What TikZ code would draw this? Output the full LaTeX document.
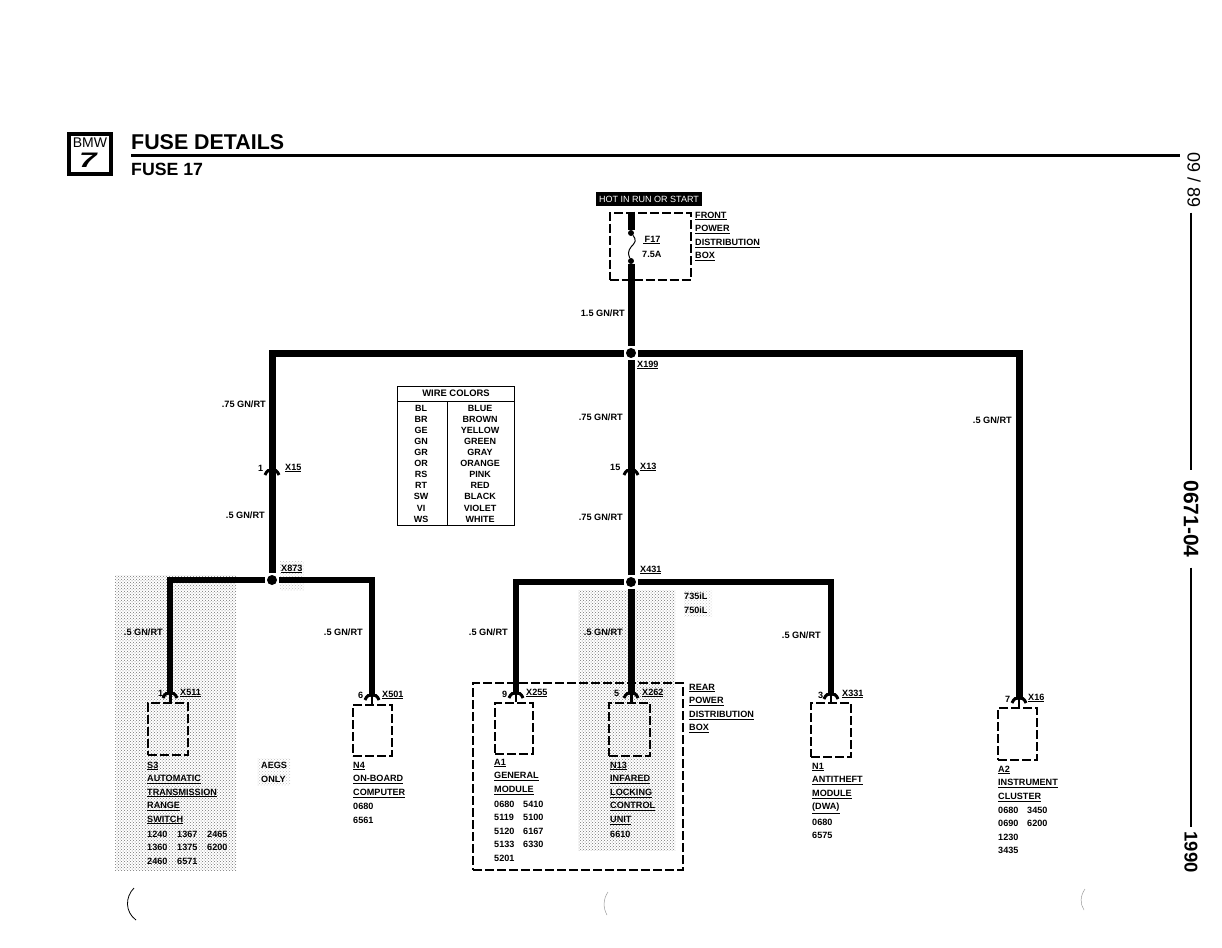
\documentclass[tikz,border=0pt]{standalone}
\usepackage{fontspec}
\setmainfont{Liberation Sans}
\usetikzlibrary{patterns}

\tikzset{
	wire/.style={line width=7pt},
	thinwire/.style={line width=6pt},
	stub/.style={line width=2pt},
	junct/.style={circle, fill=black, inner sep=0pt, minimum size=10pt, outer sep=2pt},
	modbox/.style={draw, line width=2pt, dash pattern=on 9pt off 3pt, inner sep=0pt},
	txt/.style={anchor=west, inner sep=0pt, font=\bfseries\fontsize{9.1}{10}\selectfont},
	wlabel/.style={anchor=east, inner sep=0pt, font=\bfseries\fontsize{9.2}{10}\selectfont},
	cell/.style={inner sep=0pt, font=\bfseries\fontsize{9}{10}\selectfont},
	shade/.style={pattern=crosshatch dots, pattern color=black!55},
	faintshade/.style={pattern=crosshatch dots, pattern color=black!25},
	pics/conn/.style={code={
		\draw[line width=3pt] (-7,5) .. controls (-5,0) and (-3,0) .. (0,0) .. controls (3,0) and (5,0) .. (7,5);
	}}
}

\begin{document}
\begin{tikzpicture}[x=1pt, y=-1pt]
	\useasboundingbox (0,0) rectangle (1222,947);

	% scanned gray areas
	\fill[shade] (115,575) rectangle (236,870);
	\fill[shade] (578,590) rectangle (675,850);
	\fill[faintshade] (280,561) rectangle (304,590);
	\fill[faintshade] (684,590) rectangle (712,616);
	\fill[faintshade] (257,758) rectangle (290,785);

	% header
	\draw[line width=4pt] (68.5,133.5) rectangle (110.5,173.5);
	\node[inner sep=0pt, font=\fontsize{14}{15}\selectfont] (bmw) at (90,143) {BMW};
	\node[inner sep=0pt, xscale=1.5, font=\bfseries\itshape\fontsize{21}{22}\selectfont] (seven) at (88,160) {7};
	\node[anchor=base west, inner sep=0pt, font=\bfseries\fontsize{21.4}{22}\selectfont] (title) at (131,149) {FUSE DETAILS};
	\node[anchor=base west, inner sep=0pt, font=\bfseries\fontsize{17.7}{18}\selectfont] (subtitle) at (131,175) {FUSE 17};
	\draw[line width=3pt] (131,155) -- (1180,155);

	% right margin
	\node[rotate=-90, inner sep=0pt, outer sep=5pt, font=\fontsize{18}{20}\selectfont] (date) at (1194,180) {09 / 89};
	\node[rotate=-90, inner sep=0pt, outer sep=10pt, font=\bfseries\fontsize{21}{22}\selectfont] (code) at (1191,519) {0671-04};
	\node[rotate=-90, inner sep=0pt, outer sep=4pt, font=\bfseries\fontsize{18.5}{20}\selectfont] (year) at (1191,852) {1990};
	\draw[line width=2.2pt] (date.east -| code) -- (code.west);
	\draw[line width=2.2pt] (code.east) -- (year.west);

	% fuse box
	\node[fill=black, text=white, inner sep=0pt, minimum width=106pt, minimum height=14pt, font=\fontsize{9}{10}\selectfont] (hot) at (649,199) {HOT IN RUN OR START};
	\node[modbox, minimum width=81pt, minimum height=67pt] (frontbox) at (650,246) {};
	\node[circle, fill=black, inner sep=0pt, minimum size=6pt] (fusetop) at (631,233) {};
	\node[circle, fill=black, inner sep=0pt, minimum size=6pt] (fusebot) at (631,261) {};
	\draw[wire] (frontbox.north -| fusetop) -- (fusetop);
	\draw[line width=1pt] (fusetop) .. controls (637,240) and (635,243) .. (631,247) .. controls (628,251) and (628,254) .. (fusebot);
	\node[txt] (f17) at (643,240) {\underline{\,F17}};
	\node[txt] (fuserate) at (642,254) {7.5A};
	\foreach \txt [count=\j from 0] in {FRONT,POWER,DISTRIBUTION,BOX} {
		\node[txt] (front\j) at (695,216+13.6*\j) {\underline{\txt}};
	}

	% splices
	\node[junct] (j199) at (631,353) {};
	\node[junct] (j873) at (272,580) {};
	\node[junct] (j431) at (631,582) {};

	% connectors
	\coordinate (x15) at (272,470);
	\coordinate (x13) at (631,470);
	\coordinate (x511) at (170,693);
	\coordinate (x501) at (372,695);
	\coordinate (x255) at (516,693);
	\coordinate (x262) at (631,693);
	\coordinate (x331) at (831,694);
	\coordinate (x16) at (1019,698);
	\foreach \c in {x15,x13,x511,x501,x255,x262,x331,x16} {
		\pic at (\c) {conn};
	}

	% modules
	\node[modbox, minimum width=40pt, minimum height=52pt] (s3) at (168,729) {};
	\node[modbox, minimum width=39pt, minimum height=51pt] (n4) at (372.5,730.5) {};
	\node[modbox, minimum width=38pt, minimum height=51pt] (a1) at (514,728.5) {};
	\node[modbox, minimum width=41pt, minimum height=53pt] (n13) at (629.5,729.5) {};
	\node[modbox, minimum width=40pt, minimum height=54pt] (n1) at (831,730) {};
	\node[modbox, minimum width=39pt, minimum height=52pt] (a2) at (1017.5,734) {};
	\node[modbox, line width=2.4pt, minimum width=210pt, minimum height=187pt] (rearbox) at (578,776.5) {};

	% wires
	\draw[wire] (fusebot) -- (j199);
	\draw[wire] (j199) -| ([yshift=-5pt]x15);
	\draw[wire] (j199) -| (x16);
	\draw[wire] (j199) -- ([yshift=-5pt]x13);
	\draw[wire] ([yshift=3pt]x15) -- (j873);
	\draw[wire] ([yshift=3pt]x13) -- (j431);
	\draw[thinwire] (j873) -| (x511);
	\draw[thinwire] (j873) -| (x501);
	\draw[thinwire] (j431) -| (x255);
	\draw[thinwire] (j431) -| (x331);
	\draw[wire] (j431) -- (x262);
	\draw[stub] (x15) -- ++(0,-5);
	\draw[stub] (x13) -- ++(0,-5);
	\draw[stub, line width=3pt] (x511) -- (x511 |- s3.north);
	\draw[stub] (x501) -- (x501 |- n4.north);
	\draw[stub] (x255) -- (x255 |- a1.north);
	\draw[stub, line width=3pt] (x262) -- (x262 |- n13.north);
	\draw[stub] (x331) -- (x331 |- n1.north);
	\draw[stub] (x16) -- (x16 |- a2.north);

	% wire labels
	\node[wlabel] (w1) at (625,313) {1.5 GN/RT};
	\node[wlabel] (w2) at (266,404) {.75 GN/RT};
	\node[wlabel] (w3) at (265,515) {.5 GN/RT};
	\node[wlabel] (w4) at (623,417) {.75 GN/RT};
	\node[wlabel] (w5) at (623,517) {.75 GN/RT};
	\node[wlabel] (w6) at (1012,420) {.5 GN/RT};
	\node[wlabel] (w7) at (163,632) {.5 GN/RT};
	\node[wlabel] (w8) at (363,632) {.5 GN/RT};
	\node[wlabel] (w9) at (508,632) {.5 GN/RT};
	\node[wlabel] (w10) at (623,632) {.5 GN/RT};
	\node[wlabel] (w11) at (821,635) {.5 GN/RT};

	% pin and connector labels
	\node[txt] (p15) at (258,468) {1};
	\node[txt] (l15) at (285,468) {\underline{X15}};
	\node[txt] (p13) at (610,467) {15};
	\node[txt] (l13) at (640,467) {\underline{X13}};
	\node[txt] (l199) at (637,365) {\underline{X199}};
	\node[txt] (l873) at (281,569) {\underline{X873}};
	\node[txt] (l431) at (640,570) {\underline{X431}};
	\node[txt] (il1) at (684,596) {735iL};
	\node[txt] (il2) at (684,610) {750iL};
	\node[txt] (p511) at (158,693) {1};
	\node[txt] (l511) at (180,693) {\underline{X511}};
	\node[txt] (p501) at (358,695) {6};
	\node[txt] (l501) at (382,695) {\underline{X501}};
	\node[txt] (p255) at (502,694) {9};
	\node[txt] (l255) at (526,693) {\underline{X255}};
	\node[txt] (p262) at (614,693) {5};
	\node[txt] (l262) at (642,693) {\underline{X262}};
	\node[txt] (p331) at (818,695) {3};
	\node[txt] (l331) at (842,694) {\underline{X331}};
	\node[txt] (p16) at (1005,699) {7};
	\node[txt] (l16) at (1028,698) {\underline{X16}};

	% module texts
	\foreach \txt [count=\j from 0] in {S3,AUTOMATIC,TRANSMISSION,RANGE,SWITCH} {
		\node[txt] (s3t\j) at (147,766+13.5*\j) {\underline{\txt}};
	}
	\foreach \a/\b/\c [count=\j from 0] in {1240/1367/2465,1360/1375/6200,2460/6571/} {
		\node[txt] (s3a\j) at (147,834+13.5*\j) {\a};
		\node[txt] (s3b\j) at (177,834+13.5*\j) {\b};
		\node[txt] (s3c\j) at (207,834+13.5*\j) {\c};
	}
	\foreach \txt [count=\j from 0] in {N4,ON-BOARD,COMPUTER} {
		\node[txt] (n4t\j) at (353,766+13.6*\j) {\underline{\txt}};
	}
	\node[txt] (n4a) at (353,806) {0680};
	\node[txt] (n4b) at (353,820) {6561};
	\node[txt] (aegs) at (261,765) {AEGS};
	\node[txt] (only) at (261,779) {ONLY};
	\foreach \txt [count=\j from 0] in {A1,GENERAL,MODULE} {
		\node[txt] (a1t\j) at (494,763+13.6*\j) {\underline{\txt}};
	}
	\foreach \a/\b [count=\j from 0] in {0680/5410,5119/5100,5120/6167,5133/6330,5201/} {
		\node[txt] (a1a\j) at (494,804+13.5*\j) {\a};
		\node[txt] (a1b\j) at (523,804+13.5*\j) {\b};
	}
	\foreach \txt [count=\j from 0] in {N13,INFARED,LOCKING,CONTROL,UNIT} {
		\node[txt] (n13t\j) at (610,766+13.6*\j) {\underline{\txt}};
	}
	\node[txt] (n13a) at (610,834) {6610};
	\foreach \txt [count=\j from 0] in {REAR,POWER,DISTRIBUTION,BOX} {
		\node[txt] (rear\j) at (689,688+13.6*\j) {\underline{\txt}};
	}
	\foreach \txt [count=\j from 0] in {N1,ANTITHEFT,MODULE,(DWA)} {
		\node[txt] (n1t\j) at (812,767+13.7*\j) {\underline{\txt}};
	}
	\node[txt] (n1a) at (812,822) {0680};
	\node[txt] (n1b) at (812,835) {6575};
	\foreach \txt [count=\j from 0] in {A2,INSTRUMENT,CLUSTER} {
		\node[txt] (a2t\j) at (998,770+13.6*\j) {\underline{\txt}};
	}
	\foreach \a/\b [count=\j from 0] in {0680/3450,0690/6200,1230/,3435/} {
		\node[txt] (a2a\j) at (998,810+13.6*\j) {\a};
		\node[txt] (a2b\j) at (1027,810+13.6*\j) {\b};
	}

	% wire colors table
	\draw[line width=1pt] (397,386) rectangle (514,525);
	\draw[line width=1pt] (397,401) -- (514,401);
	\draw[line width=0.8pt] (447,401) -- (447,525);
	\node[cell, font=\bfseries\fontsize{9.4}{10}\selectfont] (wirecolors) at (456,393.5) {WIRE COLORS};
	\foreach \a/\b [count=\j from 0] in {BL/BLUE,BR/BROWN,GE/YELLOW,GN/GREEN,GR/GRAY,OR/ORANGE,RS/PINK,RT/RED,SW/BLACK,VI/VIOLET,WS/WHITE} {
		\node[cell] (code\j) at (421,408+11.1*\j) {\a};
		\node[cell] (name\j) at (480,408+11.1*\j) {\b};
	}

	% scan marks
	\draw[line width=0.8pt] (134,888) .. controls (125,897) and (125,912) .. (136,920);
	\draw[line width=0.5pt, black!40] (608,892) .. controls (603,899) and (603,908) .. (607,915);
	\draw[line width=0.5pt, black!40] (1085,889) .. controls (1080,896) and (1080,904) .. (1084,910);
\end{tikzpicture}
\end{document}
